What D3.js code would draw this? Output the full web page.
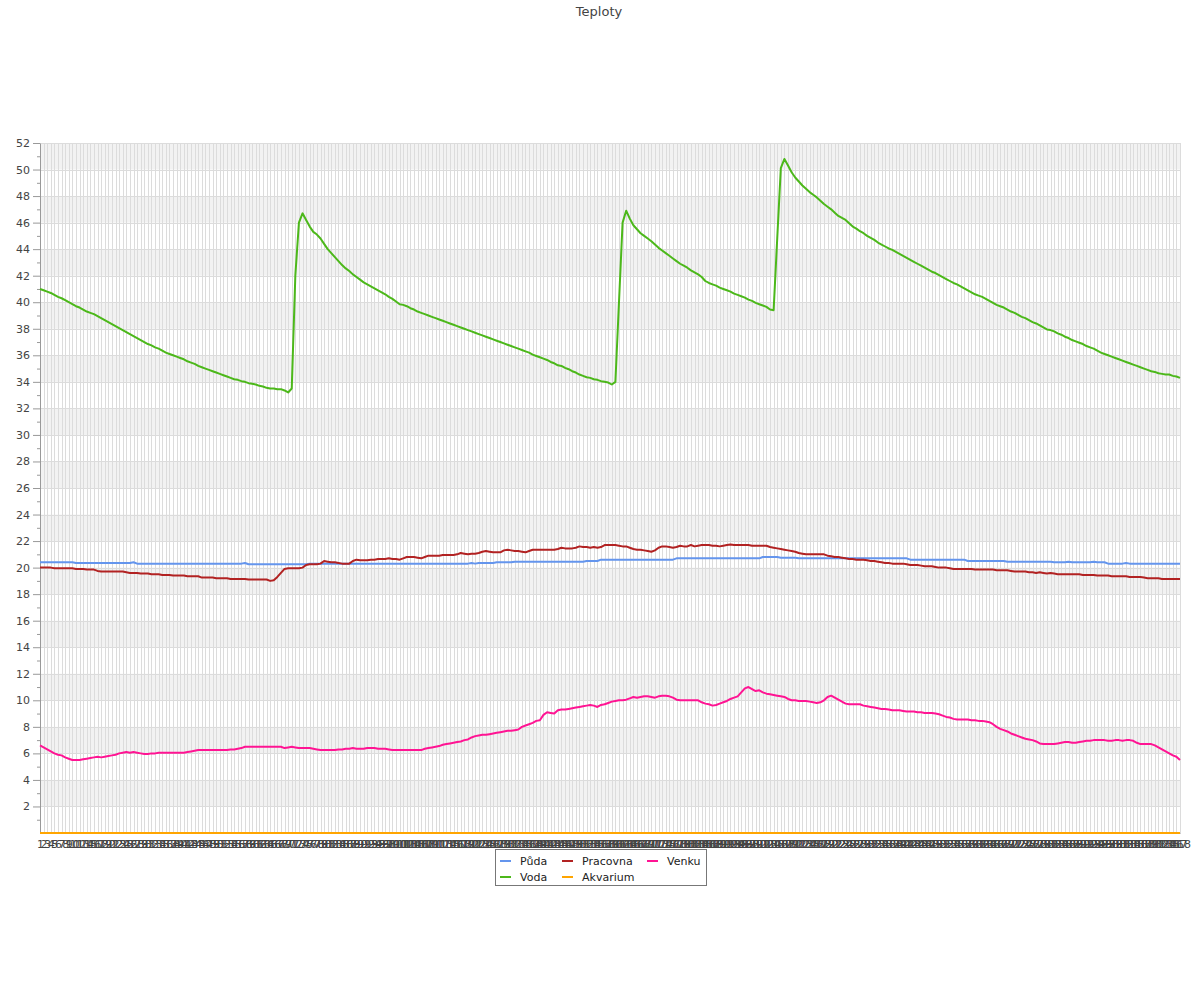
<!DOCTYPE html>
<html><head><meta charset="utf-8">
<script src="https://cdn.jsdelivr.net/npm/d3@7"></script>
<style>body{margin:0;background:#fff;} svg{display:block;font-family:"DejaVu Sans",sans-serif;}</style>
</head><body><svg id="c" width="1200" height="1000"></svg>
<script>
const chartTitle = "Teploty";
const seriesNames = ["Půda","Voda","Pracovna","Akvarium","Venku"];
const seriesColors = ["#6495ed","#4cb81a","#b22222","#ffa500","#ff1493"];
const categories = d3.range(1, 319).map(String);
const yMajorTicks = [2,4,6,8,10,12,14,16,18,20,22,24,26,28,30,32,34,36,38,40,42,44,46,48,50,52];
const yMinorTicks = [1,3,5,7,9,11,13,15,17,19,21,23,25,27,29,31,33,35,37,39,41,43,45,47,49,51];

const puda = [
20.4,20.4,20.4,20.4,20.4,20.4,20.4,20.4,20.4,20.4,
20.35,20.35,20.35,20.35,20.35,20.35,20.35,20.35,20.35,20.35,
20.35,20.35,20.35,20.35,20.35,20.35,20.4,20.3,20.3,20.3,
20.3,20.3,20.3,20.3,20.3,20.3,20.3,20.3,20.3,20.3,
20.3,20.3,20.3,20.3,20.3,20.3,20.3,20.3,20.3,20.3,
20.3,20.3,20.3,20.3,20.3,20.3,20.3,20.35,20.25,20.25,
20.25,20.25,20.25,20.25,20.25,20.25,20.25,20.25,20.25,20.25,
20.25,20.25,20.25,20.25,20.25,20.3,20.3,20.3,20.3,20.3,
20.3,20.3,20.3,20.3,20.3,20.3,20.3,20.3,20.3,20.3,
20.3,20.3,20.3,20.3,20.3,20.3,20.3,20.3,20.3,20.3,
20.3,20.3,20.3,20.3,20.3,20.3,20.3,20.3,20.3,20.3,
20.3,20.3,20.3,20.3,20.3,20.3,20.3,20.3,20.3,20.3,
20.35,20.3,20.35,20.35,20.35,20.35,20.35,20.4,20.4,20.4,
20.4,20.4,20.45,20.45,20.45,20.45,20.45,20.45,20.45,20.45,
20.45,20.45,20.45,20.45,20.45,20.45,20.45,20.45,20.45,20.45,
20.45,20.45,20.5,20.5,20.5,20.5,20.6,20.6,20.6,20.6,
20.6,20.6,20.6,20.6,20.6,20.6,20.6,20.6,20.6,20.6,
20.6,20.6,20.6,20.6,20.6,20.6,20.6,20.7,20.7,20.7,
20.7,20.7,20.7,20.7,20.7,20.7,20.7,20.7,20.7,20.7,
20.7,20.7,20.7,20.7,20.7,20.7,20.7,20.7,20.7,20.7,
20.7,20.8,20.8,20.8,20.8,20.8,20.75,20.75,20.75,20.75,
20.75,20.7,20.7,20.7,20.7,20.7,20.7,20.7,20.7,20.7,
20.7,20.7,20.7,20.7,20.7,20.7,20.7,20.7,20.7,20.7,
20.7,20.7,20.7,20.7,20.7,20.7,20.7,20.7,20.7,20.7,
20.7,20.7,20.6,20.6,20.6,20.6,20.6,20.6,20.6,20.6,
20.6,20.6,20.6,20.6,20.6,20.6,20.6,20.6,20.5,20.5,
20.5,20.5,20.5,20.5,20.5,20.5,20.5,20.5,20.5,20.45,
20.45,20.45,20.45,20.45,20.45,20.45,20.45,20.45,20.45,20.45,
20.45,20.45,20.4,20.4,20.4,20.4,20.45,20.4,20.4,20.4,
20.4,20.4,20.4,20.45,20.4,20.4,20.4,20.3,20.3,20.3,
20.3,20.3,20.35,20.3,20.3,20.3,20.3,20.3,20.3,20.3,
20.3,20.3,20.3,20.3,20.3,20.3,20.3,20.3
];

const voda = [
41.0,40.9,40.8,40.7,40.55,40.4,40.3,40.15,40.0,39.85,
39.7,39.6,39.45,39.3,39.2,39.1,38.95,38.8,38.65,38.5,
38.35,38.2,38.05,37.9,37.75,37.6,37.45,37.3,37.15,37.0,
36.85,36.75,36.6,36.5,36.35,36.2,36.1,36.0,35.9,35.8,
35.7,35.55,35.45,35.35,35.2,35.1,35.0,34.9,34.8,34.7,
34.6,34.5,34.4,34.3,34.2,34.15,34.05,34.0,33.9,33.85,
33.8,33.7,33.65,33.55,33.5,33.5,33.45,33.45,33.35,33.2,
33.5,42.0,46.0,46.7,46.2,45.7,45.3,45.1,44.8,44.4,
44.0,43.7,43.4,43.1,42.8,42.55,42.35,42.1,41.9,41.7,
41.5,41.35,41.2,41.05,40.9,40.75,40.6,40.4,40.25,40.05,
39.85,39.8,39.7,39.55,39.45,39.3,39.2,39.1,39.0,38.9,
38.8,38.7,38.6,38.5,38.4,38.3,38.2,38.1,38.0,37.9,
37.8,37.7,37.6,37.5,37.4,37.3,37.2,37.1,37.0,36.9,
36.8,36.7,36.6,36.5,36.4,36.3,36.2,36.05,35.95,35.85,
35.75,35.65,35.5,35.4,35.25,35.2,35.05,34.95,34.8,34.7,
34.55,34.45,34.35,34.3,34.2,34.15,34.05,34.0,33.95,33.8,
34.0,40.0,46.0,46.9,46.3,45.8,45.5,45.2,45.0,44.8,
44.6,44.35,44.1,43.9,43.7,43.5,43.3,43.1,42.9,42.75,
42.6,42.4,42.25,42.1,41.9,41.6,41.45,41.35,41.25,41.1,
41.0,40.9,40.8,40.65,40.55,40.45,40.35,40.2,40.1,39.95,
39.85,39.75,39.65,39.45,39.4,44.8,50.1,50.8,50.3,49.8,
49.4,49.1,48.8,48.55,48.3,48.1,47.9,47.65,47.4,47.2,
47.0,46.75,46.5,46.35,46.2,45.95,45.7,45.55,45.35,45.2,
45.0,44.85,44.7,44.5,44.35,44.2,44.05,43.95,43.8,43.65,
43.5,43.35,43.2,43.05,42.9,42.75,42.6,42.45,42.3,42.2,
42.05,41.9,41.75,41.6,41.45,41.35,41.2,41.05,40.9,40.75,
40.6,40.5,40.4,40.25,40.1,39.95,39.8,39.7,39.6,39.45,
39.3,39.2,39.05,38.9,38.8,38.65,38.5,38.4,38.25,38.1,
37.95,37.9,37.8,37.65,37.55,37.4,37.3,37.15,37.05,36.95,
36.85,36.7,36.6,36.5,36.35,36.2,36.1,36.0,35.9,35.8,
35.7,35.6,35.5,35.4,35.3,35.2,35.1,35.0,34.9,34.8,
34.75,34.65,34.6,34.55,34.55,34.45,34.4,34.3
];

const pracovna = [
20.0,20.0,20.0,20.0,19.95,19.95,19.95,19.95,19.95,19.95,
19.9,19.9,19.9,19.85,19.85,19.85,19.75,19.7,19.7,19.7,
19.7,19.7,19.7,19.7,19.65,19.6,19.6,19.6,19.55,19.55,
19.55,19.5,19.5,19.5,19.45,19.45,19.45,19.4,19.4,19.4,
19.4,19.35,19.35,19.35,19.35,19.25,19.25,19.25,19.25,19.2,
19.2,19.2,19.2,19.15,19.15,19.15,19.15,19.15,19.1,19.1,
19.1,19.1,19.1,19.1,19.0,19.05,19.3,19.6,19.9,19.95,
19.95,19.95,19.95,20.0,20.2,20.25,20.25,20.25,20.3,20.5,
20.45,20.4,20.4,20.35,20.3,20.3,20.3,20.5,20.6,20.55,
20.55,20.55,20.6,20.6,20.65,20.65,20.65,20.7,20.65,20.65,
20.6,20.7,20.8,20.8,20.8,20.75,20.7,20.8,20.9,20.9,
20.9,20.9,20.95,20.95,20.95,20.95,21.0,21.1,21.05,21.0,
21.05,21.05,21.1,21.2,21.25,21.2,21.15,21.15,21.15,21.3,
21.35,21.3,21.25,21.25,21.2,21.15,21.25,21.35,21.35,21.35,
21.35,21.35,21.35,21.35,21.4,21.5,21.45,21.45,21.45,21.5,
21.6,21.55,21.55,21.5,21.55,21.5,21.55,21.7,21.7,21.7,
21.7,21.65,21.6,21.6,21.5,21.4,21.35,21.35,21.3,21.25,
21.2,21.3,21.5,21.6,21.6,21.55,21.5,21.55,21.65,21.6,
21.6,21.7,21.6,21.65,21.7,21.7,21.7,21.65,21.65,21.6,
21.65,21.7,21.75,21.7,21.7,21.7,21.7,21.7,21.65,21.65,
21.65,21.65,21.65,21.55,21.5,21.45,21.4,21.35,21.3,21.25,
21.2,21.1,21.05,21.0,21.0,21.0,21.0,21.0,21.0,20.9,
20.85,20.8,20.8,20.75,20.7,20.65,20.65,20.6,20.6,20.6,
20.55,20.5,20.5,20.45,20.4,20.35,20.35,20.3,20.3,20.3,
20.3,20.25,20.2,20.2,20.2,20.15,20.1,20.1,20.1,20.05,
20.0,20.0,20.0,19.95,19.9,19.9,19.9,19.9,19.9,19.9,
19.85,19.85,19.85,19.85,19.85,19.85,19.8,19.8,19.8,19.8,
19.75,19.7,19.7,19.7,19.7,19.65,19.65,19.6,19.65,19.6,
19.55,19.6,19.55,19.5,19.5,19.5,19.5,19.5,19.5,19.5,
19.45,19.45,19.45,19.45,19.4,19.4,19.4,19.4,19.35,19.35,
19.35,19.35,19.35,19.3,19.3,19.3,19.3,19.25,19.2,19.2,
19.2,19.2,19.15,19.15,19.15,19.15,19.15,19.15
];

const akvarium = [
0,0,0,0,0,0,0,0,0,0, 0,0,0,0,0,0,0,0,0,0, 0,0,0,0,0,0,0,0,0,0, 0,0,0,0,0,0,0,0,0,0,
0,0,0,0,0,0,0,0,0,0, 0,0,0,0,0,0,0,0,0,0, 0,0,0,0,0,0,0,0,0,0, 0,0,0,0,0,0,0,0,0,0,
0,0,0,0,0,0,0,0,0,0, 0,0,0,0,0,0,0,0,0,0, 0,0,0,0,0,0,0,0,0,0, 0,0,0,0,0,0,0,0,0,0,
0,0,0,0,0,0,0,0,0,0, 0,0,0,0,0,0,0,0,0,0, 0,0,0,0,0,0,0,0,0,0, 0,0,0,0,0,0,0,0,0,0,
0,0,0,0,0,0,0,0,0,0, 0,0,0,0,0,0,0,0,0,0, 0,0,0,0,0,0,0,0,0,0, 0,0,0,0,0,0,0,0,0,0,
0,0,0,0,0,0,0,0,0,0, 0,0,0,0,0,0,0,0,0,0, 0,0,0,0,0,0,0,0,0,0, 0,0,0,0,0,0,0,0,0,0,
0,0,0,0,0,0,0,0,0,0, 0,0,0,0,0,0,0,0,0,0, 0,0,0,0,0,0,0,0,0,0, 0,0,0,0,0,0,0,0,0,0,
0,0,0,0,0,0,0,0,0,0, 0,0,0,0,0,0,0,0,0,0, 0,0,0,0,0,0,0,0,0,0, 0,0,0,0,0,0,0,0
];

const venku = [
6.6,6.45,6.3,6.15,6.0,5.9,5.85,5.7,5.6,5.5,
5.5,5.5,5.55,5.6,5.65,5.7,5.75,5.7,5.75,5.8,
5.85,5.9,6.0,6.05,6.1,6.05,6.1,6.05,6.0,5.95,
5.95,6.0,6.0,6.05,6.05,6.05,6.05,6.05,6.05,6.05,
6.05,6.1,6.15,6.2,6.25,6.25,6.25,6.25,6.25,6.25,
6.25,6.25,6.25,6.3,6.3,6.35,6.4,6.5,6.5,6.5,
6.5,6.5,6.5,6.5,6.5,6.5,6.5,6.5,6.4,6.45,
6.5,6.45,6.4,6.4,6.4,6.4,6.35,6.3,6.25,6.25,
6.25,6.25,6.25,6.3,6.3,6.35,6.35,6.4,6.35,6.35,
6.35,6.4,6.4,6.4,6.35,6.35,6.35,6.3,6.25,6.25,
6.25,6.25,6.25,6.25,6.25,6.25,6.25,6.35,6.4,6.45,
6.5,6.55,6.65,6.7,6.75,6.8,6.85,6.9,7.0,7.05,
7.2,7.3,7.35,7.4,7.4,7.45,7.5,7.55,7.6,7.65,
7.7,7.7,7.75,7.8,8.0,8.1,8.2,8.3,8.45,8.5,
8.9,9.1,9.05,9.0,9.25,9.3,9.3,9.35,9.4,9.45,
9.5,9.55,9.6,9.65,9.6,9.5,9.65,9.7,9.8,9.9,
9.95,10.0,10.0,10.05,10.15,10.25,10.2,10.25,10.3,10.3,
10.25,10.2,10.3,10.35,10.35,10.3,10.2,10.05,10.0,10.0,
10.0,10.0,10.0,10.0,9.85,9.75,9.7,9.6,9.65,9.75,
9.85,9.95,10.1,10.2,10.3,10.6,10.9,11.0,10.85,10.7,
10.75,10.6,10.5,10.45,10.4,10.35,10.3,10.25,10.1,10.0,
10.0,9.95,9.95,9.95,9.9,9.85,9.8,9.85,10.0,10.25,
10.35,10.2,10.05,9.9,9.75,9.7,9.7,9.7,9.7,9.6,
9.55,9.5,9.45,9.4,9.35,9.35,9.3,9.25,9.25,9.25,
9.2,9.15,9.15,9.15,9.1,9.1,9.05,9.05,9.05,9.0,
8.95,8.85,8.75,8.7,8.6,8.55,8.55,8.55,8.55,8.5,
8.5,8.45,8.45,8.4,8.35,8.2,8.0,7.85,7.75,7.65,
7.5,7.4,7.3,7.2,7.1,7.05,7.0,6.9,6.75,6.7,
6.7,6.7,6.7,6.75,6.8,6.85,6.85,6.8,6.8,6.85,
6.9,6.95,6.95,7.0,7.0,7.0,7.0,6.95,6.95,7.0,
7.0,6.95,7.0,7.0,6.95,6.8,6.7,6.7,6.7,6.7,
6.6,6.45,6.3,6.15,6.0,5.85,5.75,5.5
];

const seriesValues = [puda, voda, pracovna, akvarium, venku];

const svg = d3.select("#c");
const plotLeft = 40, plotRight = 1180, plotTop = 143, plotBottom = 833;
const x = d3.scalePoint().domain(categories).range([plotLeft, plotRight]);
const y = d3.scaleLinear().domain([0, 52]).range([plotBottom, plotTop]);

// title
svg.append("text").attr("x", 599).attr("y", 16).attr("text-anchor", "middle")
  .attr("font-size", 13).attr("fill", "#444").text(chartTitle);

// bands
const bandStarts = yMajorTicks.filter(v => (v / 2) % 2 === 1);
svg.append("g").selectAll("rect").data(bandStarts).join("rect")
  .attr("x", plotLeft).attr("width", plotRight - plotLeft)
  .attr("y", d => y(d + 2)).attr("height", d => y(d) - y(d + 2))
  .attr("fill", "#f2f2f2");

// vertical grid
svg.append("g").selectAll("line").data(categories).join("line")
  .attr("x1", d => Math.round(x(d)) + 0.5).attr("x2", d => Math.round(x(d)) + 0.5)
  .attr("y1", plotTop).attr("y2", plotBottom)
  .attr("stroke", "#dcdcdc").attr("stroke-width", 1);

// horizontal grid
svg.append("g").selectAll("line").data(yMajorTicks).join("line")
  .attr("x1", plotLeft).attr("x2", plotRight)
  .attr("y1", d => Math.round(y(d)) + 0.5).attr("y2", d => Math.round(y(d)) + 0.5)
  .attr("stroke", "#dcdcdc").attr("stroke-width", 1);

// y axis
const yAxis = svg.append("g").attr("transform", `translate(${plotLeft},0)`)
  .call(d3.axisLeft(y).tickValues(yMajorTicks).tickSize(7).tickSizeOuter(0).tickPadding(3));
yAxis.select(".domain").attr("stroke", "#999");
yAxis.selectAll(".tick line").attr("stroke", "#999");
yAxis.selectAll(".tick text").attr("font-size", 11).attr("fill", "#444").attr("font-family", "DejaVu Sans");
const yMinor = svg.append("g").attr("transform", `translate(${plotLeft},0)`)
  .call(d3.axisLeft(y).tickValues(yMinorTicks).tickSize(3).tickSizeOuter(0).tickFormat(""));
yMinor.select(".domain").remove();
yMinor.selectAll(".tick line").attr("stroke", "#999");

// x axis labels
const xAxis = svg.append("g").attr("transform", `translate(0,${plotBottom})`)
  .call(d3.axisBottom(x).tickSize(0).tickPadding(7));
xAxis.select(".domain").attr("stroke", "#999");
xAxis.selectAll(".tick text").attr("font-size", 11).attr("fill", "#444").attr("font-family", "DejaVu Sans");

// lines
const line = d3.line().x((d, i) => x(categories[i])).y(d => y(d));
seriesValues.forEach((vals, k) => {
  svg.append("path").datum(vals).attr("d", line)
    .attr("fill", "none").attr("stroke", seriesColors[k]).attr("stroke-width", 2)
    .attr("stroke-linejoin", "round");
});

// legend
const lg = svg.append("g");
lg.append("rect").attr("x", 495.5).attr("y", 849.5).attr("width", 211).attr("height", 36)
  .attr("fill", "#fff").attr("stroke", "#777");
const colX = [500, 562, 647];
const rowY = [861, 877];
seriesNames.forEach((name, k) => {
  const c = Math.floor(k / 2), r = k % 2;
  lg.append("line").attr("x1", colX[c]).attr("x2", colX[c] + 11)
    .attr("y1", rowY[r]).attr("y2", rowY[r]).attr("stroke", seriesColors[k]).attr("stroke-width", 2);
  lg.append("text").attr("x", colX[c] + 20).attr("y", rowY[r] + 4)
    .attr("font-size", 11).attr("fill", "#222").text(name);
});
</script></body></html>
